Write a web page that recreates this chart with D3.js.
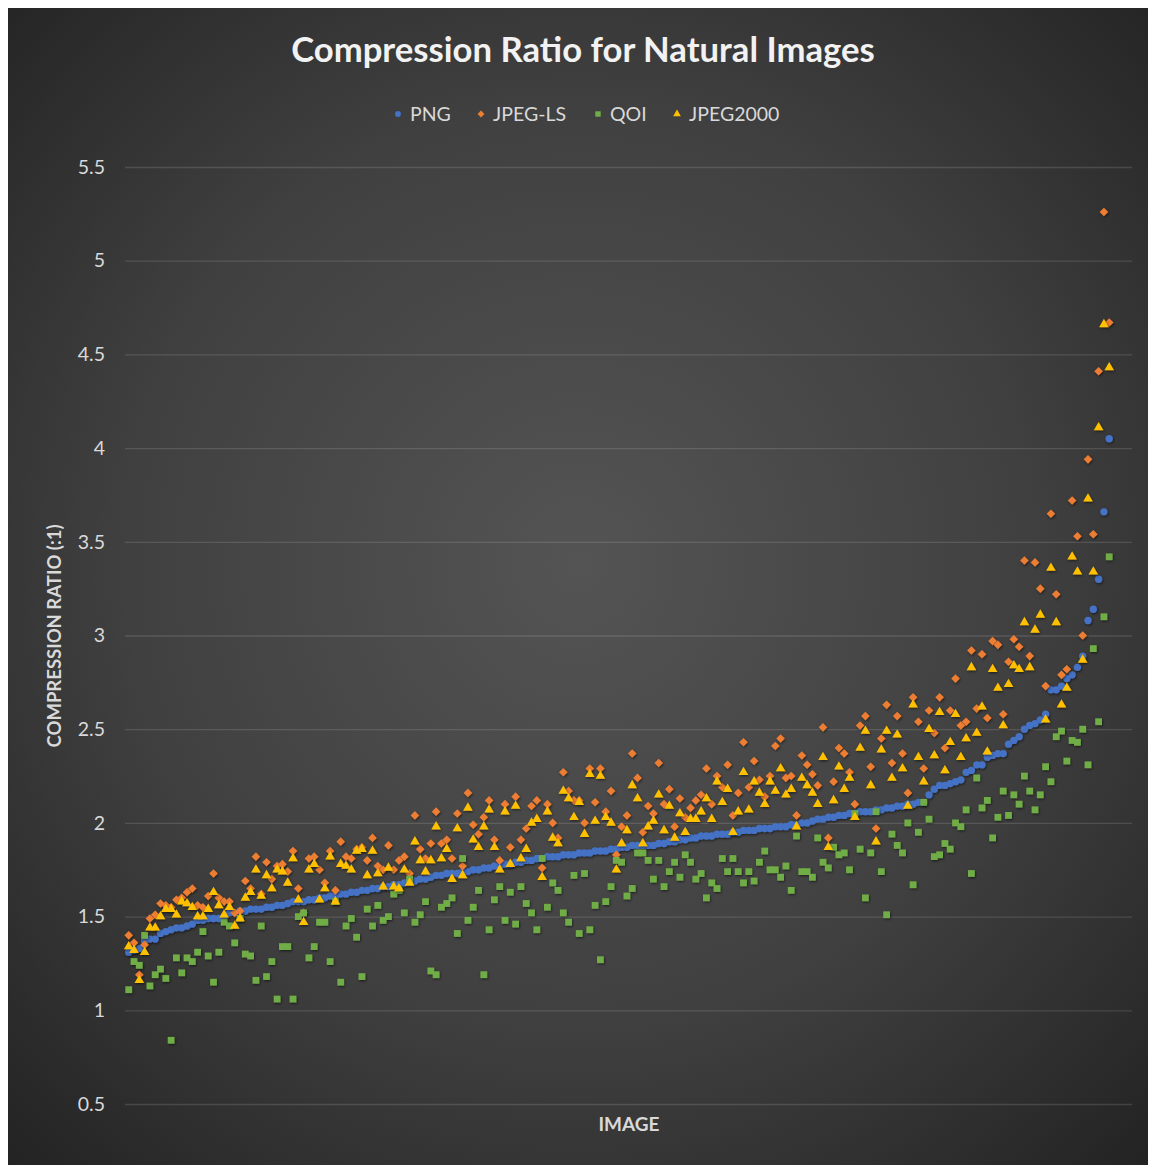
<!DOCTYPE html>
<html>
<head>
<meta charset="utf-8">
<script src="https://cdn.jsdelivr.net/npm/d3@7"></script>
<style>
  body { margin: 0; background: #ffffff; }
  svg { display: block; }
</style>
</head>
<body>
<svg id="chart"></svg>
<script>
// values, one entry per image, ordered by PNG ratio
const png = [
  1.31, 1.32, 1.33, 1.37, 1.38, 1.38, 1.41, 1.42, 1.43, 1.44, 1.44, 1.45, 1.46, 1.48, 1.48, 1.49,
  1.49, 1.49, 1.50, 1.52, 1.52, 1.53, 1.53, 1.54, 1.54, 1.54, 1.55, 1.55, 1.56, 1.56, 1.57, 1.58,
  1.58, 1.58, 1.59, 1.59, 1.60, 1.60, 1.61, 1.61, 1.62, 1.62, 1.63, 1.63, 1.64, 1.64, 1.65, 1.65,
  1.66, 1.66, 1.67, 1.67, 1.68, 1.69, 1.69, 1.70, 1.70, 1.71, 1.72, 1.72, 1.73, 1.73, 1.73, 1.74,
  1.74, 1.75, 1.75, 1.76, 1.76, 1.77, 1.77, 1.78, 1.78, 1.79, 1.79, 1.80, 1.80, 1.81, 1.81, 1.82,
  1.82, 1.82, 1.83, 1.83, 1.83, 1.84, 1.84, 1.84, 1.85, 1.85, 1.85, 1.86, 1.86, 1.87, 1.87, 1.88,
  1.88, 1.88, 1.88, 1.88, 1.89, 1.89, 1.90, 1.90, 1.91, 1.91, 1.92, 1.92, 1.93, 1.93, 1.93, 1.94,
  1.94, 1.94, 1.95, 1.95, 1.96, 1.96, 1.96, 1.97, 1.97, 1.97, 1.98, 1.98, 1.98, 1.99, 1.99, 2.00,
  2.00, 2.01, 2.02, 2.02, 2.03, 2.03, 2.04, 2.04, 2.05, 2.05, 2.06, 2.06, 2.06, 2.07, 2.07, 2.08,
  2.08, 2.09, 2.09, 2.10, 2.10, 2.11, 2.11, 2.15, 2.18, 2.20, 2.20, 2.21, 2.22, 2.23, 2.27, 2.28,
  2.31, 2.31, 2.35, 2.36, 2.37, 2.37, 2.42, 2.44, 2.46, 2.50, 2.52, 2.53, 2.55, 2.58, 2.71, 2.71,
  2.73, 2.77, 2.79, 2.83, 2.89, 3.08, 3.14, 3.30, 3.66, 4.05
];
const jpegLs = [
  1.40, 1.36, 1.19, 1.35, 1.49, 1.51, 1.57, 1.56, 1.55, 1.59, 1.60, 1.63, 1.65, 1.56, 1.55, 1.61,
  1.73, 1.60, 1.58, 1.58, 1.52, 1.53, 1.69, 1.65, 1.82, 1.62, 1.79, 1.70, 1.77, 1.78, 1.74, 1.85,
  1.65, 1.52, 1.81, 1.82, 1.75, 1.68, 1.85, 1.64, 1.90, 1.82, 1.81, 1.86, 1.87, 1.80, 1.92, 1.77,
  1.75, 1.88, 1.75, 1.80, 1.82, 1.73, 2.04, 1.86, 1.81, 1.89, 2.06, 1.89, 1.91, 1.81, 2.05, 1.77,
  2.16, 1.99, 1.94, 2.03, 2.12, 1.91, 1.80, 2.10, 1.87, 2.14, 1.91, 1.97, 2.09, 2.12, 1.76, 2.10,
  2.00, 1.92, 2.27, 2.17, 2.12, 2.12, 2.00, 2.29, 2.11, 2.29, 2.06, 2.17, 1.83, 1.98, 2.04, 2.37,
  2.24, 1.95, 2.09, 2.05, 2.32, 2.10, 2.18, 1.98, 2.13, 2.03, 2.08, 2.12, 2.15, 2.29, 2.10, 2.25,
  2.19, 2.31, 2.04, 2.16, 2.43, 2.19, 2.33, 2.23, 2.14, 2.25, 2.41, 2.45, 2.24, 2.25, 2.04, 2.36,
  2.31, 2.26, 2.20, 2.51, 1.92, 2.22, 2.40, 2.37, 2.27, 2.10, 2.52, 2.57, 2.30, 1.97, 2.45, 2.63,
  2.32, 2.57, 2.37, 2.16, 2.67, 2.54, 2.29, 2.60, 2.48, 2.67, 2.40, 2.60, 2.77, 2.52, 2.54, 2.92,
  2.61, 2.90, 2.56, 2.97, 2.95, 2.58, 2.86, 2.98, 2.94, 3.40, 2.89, 3.39, 3.25, 2.73, 3.65, 3.22,
  2.79, 2.82, 3.72, 3.53, 3.00, 3.94, 3.54, 4.41, 5.26, 4.67
];
const qoi = [
  1.11, 1.26, 1.24, 1.40, 1.13, 1.19, 1.22, 1.17, 0.84, 1.28, 1.20, 1.28, 1.26, 1.31, 1.42, 1.29,
  1.15, 1.31, 1.47, 1.45, 1.36, 1.49, 1.30, 1.29, 1.16, 1.45, 1.18, 1.26, 1.06, 1.34, 1.34, 1.06,
  1.50, 1.52, 1.28, 1.34, 1.47, 1.47, 1.26, 1.58, 1.15, 1.45, 1.49, 1.39, 1.18, 1.54, 1.45, 1.56,
  1.48, 1.50, 1.62, 1.64, 1.52, 1.70, 1.47, 1.51, 1.58, 1.21, 1.19, 1.55, 1.57, 1.60, 1.41, 1.81,
  1.48, 1.55, 1.64, 1.19, 1.43, 1.59, 1.66, 1.48, 1.63, 1.46, 1.66, 1.57, 1.52, 1.43, 1.81, 1.55,
  1.68, 1.64, 1.52, 1.47, 1.72, 1.41, 1.73, 1.43, 1.56, 1.27, 1.58, 1.66, 1.80, 1.79, 1.61, 1.65,
  1.84, 1.84, 1.80, 1.70, 1.80, 1.66, 1.74, 1.79, 1.71, 1.83, 1.79, 1.70, 1.73, 1.60, 1.68, 1.65,
  1.81, 1.74, 1.81, 1.74, 1.68, 1.74, 1.69, 1.79, 1.85, 1.75, 1.75, 1.71, 1.77, 1.64, 1.93, 1.74,
  1.74, 1.71, 1.92, 1.79, 1.76, 1.87, 1.83, 1.84, 1.75, 2.05, 1.86, 1.60, 1.84, 2.06, 1.74, 1.51,
  1.94, 1.88, 1.84, 2.00, 1.67, 1.95, 2.11, 2.02, 1.82, 1.83, 1.89, 1.86, 2.00, 1.98, 2.07, 1.73,
  2.24, 2.08, 2.12, 1.92, 2.03, 2.17, 2.04, 2.15, 2.10, 2.25, 2.17, 2.07, 2.15, 2.30, 2.22, 2.46,
  2.49, 2.33, 2.44, 2.43, 2.50, 2.31, 2.93, 2.54, 3.10, 3.42
];
const jpeg2000 = [
  1.34, 1.32, 1.16, 1.31, 1.44, 1.44, 1.50, 1.54, 1.54, 1.51, 1.58, 1.57, 1.55, 1.50, 1.50, 1.54,
  1.63, 1.56, 1.51, 1.55, 1.45, 1.49, 1.60, 1.63, 1.75, 1.61, 1.72, 1.65, 1.75, 1.74, 1.68, 1.81,
  1.59, 1.47, 1.75, 1.78, 1.59, 1.65, 1.82, 1.58, 1.78, 1.77, 1.75, 1.85, 1.86, 1.72, 1.85, 1.73,
  1.66, 1.76, 1.66, 1.65, 1.75, 1.68, 1.90, 1.80, 1.74, 1.80, 1.98, 1.81, 1.86, 1.70, 1.97, 1.72,
  2.08, 1.91, 1.87, 1.98, 2.07, 1.87, 1.75, 2.06, 1.78, 2.09, 1.81, 1.86, 2.00, 2.02, 1.71, 2.06,
  1.92, 1.89, 2.17, 2.13, 2.03, 2.11, 1.94, 2.26, 2.01, 2.25, 2.03, 2.00, 1.75, 1.89, 1.96, 2.20,
  2.13, 1.89, 1.98, 2.01, 2.15, 1.96, 2.09, 1.92, 2.05, 1.95, 2.02, 2.02, 2.06, 2.13, 2.02, 2.22,
  2.11, 2.18, 1.95, 2.06, 2.27, 2.07, 2.22, 2.16, 2.10, 2.22, 2.17, 2.29, 2.15, 2.18, 1.98, 2.24,
  2.20, 2.16, 2.10, 2.35, 1.87, 2.12, 2.30, 2.18, 2.24, 2.03, 2.40, 2.49, 2.20, 1.90, 2.39, 2.49,
  2.24, 2.47, 2.29, 2.09, 2.63, 2.35, 2.22, 2.50, 2.36, 2.59, 2.28, 2.43, 2.58, 2.35, 2.45, 2.83,
  2.48, 2.62, 2.38, 2.82, 2.72, 2.52, 2.74, 2.84, 2.82, 3.07, 2.83, 3.03, 3.11, 2.55, 3.36, 3.07,
  2.63, 2.72, 3.42, 3.34, 2.87, 3.73, 3.34, 4.11, 4.66, 4.43
];

const seriesNames = ["PNG", "JPEG-LS", "QOI", "JPEG2000"];
const seriesColors = ["#4472c4", "#ed7d31", "#70ad47", "#ffc000"];
const yTicks = [0.5, 1, 1.5, 2, 2.5, 3, 3.5, 4, 4.5, 5, 5.5];

const W = 1154, H = 1168;
const frame = { x: 8, y: 8, w: 1140, h: 1157 };
const plot = { left: 125, right: 1132, top: 167, bottom: 1104 };
const textColor = "#d9d9d9";
const font = "Lato, 'Open Sans', sans-serif";

const svg = d3.select("#chart").attr("width", W).attr("height", H);
const defs = svg.append("defs");

const bg = defs.append("radialGradient").attr("id", "bg")
  .attr("cx", "50%").attr("cy", "48%").attr("r", "72%");
bg.append("stop").attr("offset", "0%").attr("stop-color", "#545454");
bg.append("stop").attr("offset", "55%").attr("stop-color", "#404040");
bg.append("stop").attr("offset", "100%").attr("stop-color", "#232323");

const shadow = defs.append("filter").attr("id", "shadow")
  .attr("x", "-50%").attr("y", "-50%").attr("width", "200%").attr("height", "200%");
shadow.append("feDropShadow").attr("dx", 0.8).attr("dy", 1.2)
  .attr("stdDeviation", 1.2).attr("flood-color", "#000").attr("flood-opacity", 0.55);

svg.append("rect")
  .attr("x", frame.x).attr("y", frame.y)
  .attr("width", frame.w).attr("height", frame.h)
  .attr("fill", "url(#bg)");

const x = d3.scaleLinear().domain([0, 190]).range([plot.left, plot.right]);
const y = d3.scaleLinear().domain([0.5, 5.5]).range([plot.bottom, plot.top]);

// gridlines + tick labels
const yAxis = svg.append("g")
  .attr("transform", "translate(" + plot.left + ",0)")
  .call(d3.axisLeft(y).tickValues(yTicks).tickSize(-(plot.right - plot.left))
    .tickPadding(20).tickFormat(d3.format("")));
yAxis.select(".domain").remove();
yAxis.selectAll(".tick line").attr("stroke", "#ffffff").attr("stroke-opacity", 0.13)
  .attr("stroke-width", 1.3);
yAxis.selectAll(".tick text").attr("fill", textColor)
  .style("font-family", font).style("font-size", "19.5px");

// marker shapes
function diamond(r) {
  return "M0," + -r + "L" + r + ",0L0," + r + "L" + -r + ",0Z";
}
const shapes = [
  d3.symbol().type(d3.symbolCircle).size(42)(),
  diamond(4.3),
  d3.symbol().type(d3.symbolSquare).size(46)(),
  d3.symbol().type(d3.symbolTriangle).size(40)()
];

const allSeries = [png, jpegLs, qoi, jpeg2000];
allSeries.forEach((values, s) => {
  svg.append("g")
    .attr("filter", "url(#shadow)")
    .selectAll("path")
    .data(values)
    .join("path")
    .attr("d", shapes[s])
    .attr("fill", seriesColors[s])
    .attr("transform", (d, i) => "translate(" + x(i + 0.7) + "," + y(d) + ")");
});

// title
function fitWidth(sel, target) {
  const w = sel.node().getComputedTextLength();
  const fs = parseFloat(sel.style("font-size"));
  sel.style("font-size", (fs * target / w) + "px");
}
const title = svg.append("text")
  .attr("x", 583).attr("y", 62)
  .attr("text-anchor", "middle")
  .attr("fill", "#f2f2f2")
  .style("font-family", font).style("font-weight", "bold").style("font-size", "29px")
  .text("Compression Ratio for Natural Images");
fitWidth(title, 584);

// legend
const legendX = [398, 481, 598, 677];
const legend = svg.append("g");
seriesNames.forEach((name, s) => {
  const g = legend.append("g").attr("transform", "translate(" + legendX[s] + ",114)");
  g.append("path").attr("d", shapes[s]).attr("fill", seriesColors[s])
    .attr("transform", "scale(0.8)");
  g.append("text").attr("x", 12).attr("y", 7)
    .attr("fill", textColor)
    .style("font-family", font).style("font-size", "19.5px")
    .text(name);
});

// axis titles
svg.append("text")
  .attr("transform", "translate(61,636) rotate(-90)")
  .attr("text-anchor", "middle")
  .attr("fill", textColor)
  .style("font-family", font).style("font-weight", "bold").style("font-size", "18.5px")
  .text("COMPRESSION RATIO (:1)");

svg.append("text")
  .attr("x", 629).attr("y", 1131)
  .attr("text-anchor", "middle")
  .attr("fill", textColor)
  .style("font-family", font).style("font-weight", "bold").style("font-size", "19px")
  .text("IMAGE");
</script>
</body>
</html>
